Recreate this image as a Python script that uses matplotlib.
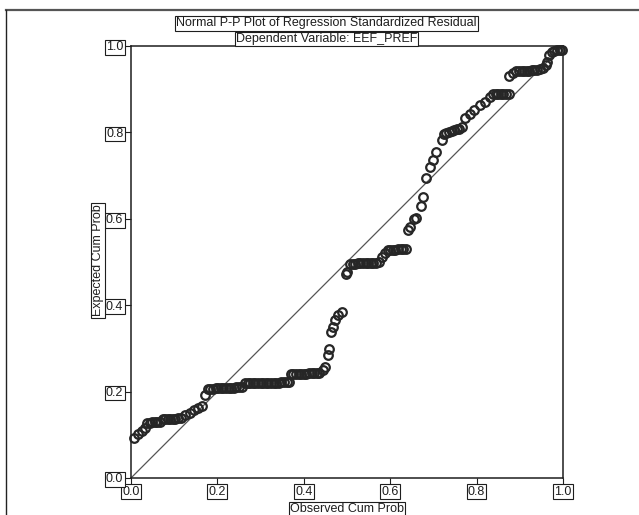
import matplotlib
matplotlib.use('Agg')
import matplotlib.pyplot as plt
from matplotlib.lines import Line2D

plt.rcParams['font.family'] = ['Liberation Sans', 'DejaVu Sans']

# observed vs expected cumulative probabilities of the standardized residuals
observed = [
    0.007, 0.016, 0.025, 0.032,
    0.037, 0.043, 0.049, 0.055, 0.061, 0.067,
    0.073, 0.079, 0.085, 0.091, 0.097, 0.103, 0.109, 0.115,
    0.126, 0.137, 0.146, 0.155, 0.164, 0.171,
    0.178, 0.184, 0.190, 0.196, 0.202, 0.208, 0.214, 0.220, 0.226, 0.232,
    0.238, 0.244, 0.250, 0.256,
    0.264, 0.270, 0.276, 0.282, 0.288, 0.294, 0.300, 0.306, 0.312, 0.318,
    0.324, 0.330, 0.336, 0.342, 0.348, 0.354, 0.360, 0.366,
    0.370, 0.376, 0.382, 0.388, 0.394, 0.400, 0.406, 0.412, 0.418, 0.424,
    0.430, 0.436,
    0.445, 0.449, 0.455, 0.459, 0.462, 0.467, 0.473, 0.480, 0.488,
    0.497, 0.501,
    0.507, 0.513, 0.519, 0.525, 0.531, 0.537, 0.543, 0.549, 0.555, 0.561,
    0.567, 0.573,
    0.580, 0.588,
    0.594, 0.600, 0.606, 0.612, 0.618, 0.624, 0.630, 0.636,
    0.641, 0.645, 0.655, 0.659, 0.671, 0.677, 0.683, 0.691, 0.699, 0.706, 0.719,
    0.724, 0.730, 0.736, 0.742, 0.748, 0.754, 0.760,
    0.766, 0.773, 0.785, 0.794, 0.808, 0.819, 0.831,
    0.838, 0.844, 0.850, 0.856, 0.862, 0.868, 0.874,
    0.874, 0.885,
    0.892, 0.898, 0.904, 0.910, 0.916, 0.922, 0.928, 0.934, 0.940, 0.946,
    0.954, 0.961, 0.963, 0.967, 0.974,
    0.980, 0.986, 0.992, 0.998,
]
expected = [
    0.092, 0.102, 0.108, 0.115,
    0.128, 0.128, 0.129, 0.129, 0.130, 0.130,
    0.136, 0.136, 0.136, 0.137, 0.137, 0.137, 0.138, 0.138,
    0.146, 0.151, 0.157, 0.163, 0.167, 0.192,
    0.207, 0.207, 0.207, 0.208, 0.208, 0.208, 0.208, 0.209, 0.209, 0.209,
    0.209, 0.210, 0.210, 0.210,
    0.219, 0.219, 0.219, 0.219, 0.220, 0.220, 0.220, 0.220, 0.220, 0.221,
    0.221, 0.221, 0.221, 0.221, 0.222, 0.222, 0.222, 0.222,
    0.240, 0.240, 0.240, 0.241, 0.241, 0.241, 0.241, 0.242, 0.242, 0.242,
    0.242, 0.243,
    0.250, 0.256, 0.285, 0.298, 0.339, 0.349, 0.366, 0.377, 0.385,
    0.472, 0.478,
    0.496, 0.496, 0.496, 0.497, 0.497, 0.497, 0.497, 0.498, 0.498, 0.498,
    0.498, 0.499,
    0.512, 0.520,
    0.527, 0.527, 0.528, 0.528, 0.529, 0.529, 0.530, 0.531,
    0.574, 0.580, 0.600, 0.602, 0.630, 0.651, 0.695, 0.721, 0.736, 0.755, 0.783,
    0.797, 0.799, 0.801, 0.803, 0.805, 0.807, 0.809,
    0.813, 0.833, 0.843, 0.852, 0.863, 0.871, 0.881,
    0.888, 0.888, 0.889, 0.889, 0.889, 0.890, 0.890,
    0.930, 0.937,
    0.941, 0.941, 0.942, 0.942, 0.943, 0.943, 0.944, 0.944, 0.945, 0.946,
    0.948, 0.956, 0.964, 0.979, 0.987,
    0.989, 0.990, 0.990, 0.991,
]
ref_line = [0.0, 1.0]
ticks = [0.0, 0.2, 0.4, 0.6, 0.8, 1.0]
tick_labels = ['0.0', '0.2', '0.4', '0.6', '0.8', '1.0']

title1 = 'Normal P-P Plot of Regression Standardized Residual'
title2 = 'Dependent Variable: EEF_PREF'

ink = '#1e1e1e'
box = dict(facecolor='white', edgecolor=ink, boxstyle='square,pad=0.1', linewidth=0.8)
fs = 9

fig = plt.figure(figsize=(6.39, 5.15), dpi=100)
ax = fig.add_axes([131 / 639, 1 - 478 / 515, 432 / 639, 432 / 515])

ax.plot(ref_line, ref_line, color='#555555', lw=0.9, zorder=2)
ax.plot(observed, expected, 'o', mfc='none', mec='#262626', ms=6.2, mew=1.6,
        zorder=3, clip_on=False)

ax.set_xlim(0, 1)
ax.set_ylim(0, 1)
ax.set_xticks(ticks)
ax.set_yticks(ticks)
ax.set_xticklabels(tick_labels)
ax.set_yticklabels(tick_labels)
ax.tick_params(direction='out', length=5, width=0.8, pad=0.5,
               labelsize=fs, colors=ink)
for lbl in ax.get_xticklabels() + ax.get_yticklabels():
    lbl.set_bbox(box)
for sp in ax.spines.values():
    sp.set_linewidth(1.1)
    sp.set_color(ink)

fig.text(347 / 639, 1 - 509 / 515, 'Observed Cum Prob', ha='center', va='center',
         fontsize=fs, color=ink, bbox=box)
fig.text(98 / 639, 1 - 260.5 / 515, 'Expected Cum Prob', ha='center', va='center',
         rotation=90, fontsize=fs, color=ink, bbox=box)

fig.text(326.5 / 639, 1 - 23.3 / 515, title1, ha='center', va='center',
         fontsize=fs, color=ink, bbox=box)
fig.text(326.5 / 639, 1 - 39 / 515, title2, ha='center', va='center',
         fontsize=fs, color=ink, bbox=box)

# outer frame of the output viewer
fig.add_artist(Line2D([6 / 639, 1], [1 - 10 / 515, 1 - 10 / 515],
                      transform=fig.transFigure, color='#555555', lw=1.6))
fig.add_artist(Line2D([6 / 639, 6 / 639], [0, 1 - 10 / 515],
                      transform=fig.transFigure, color='#222222', lw=1.0))

fig.savefig('out.png', dpi=100)
